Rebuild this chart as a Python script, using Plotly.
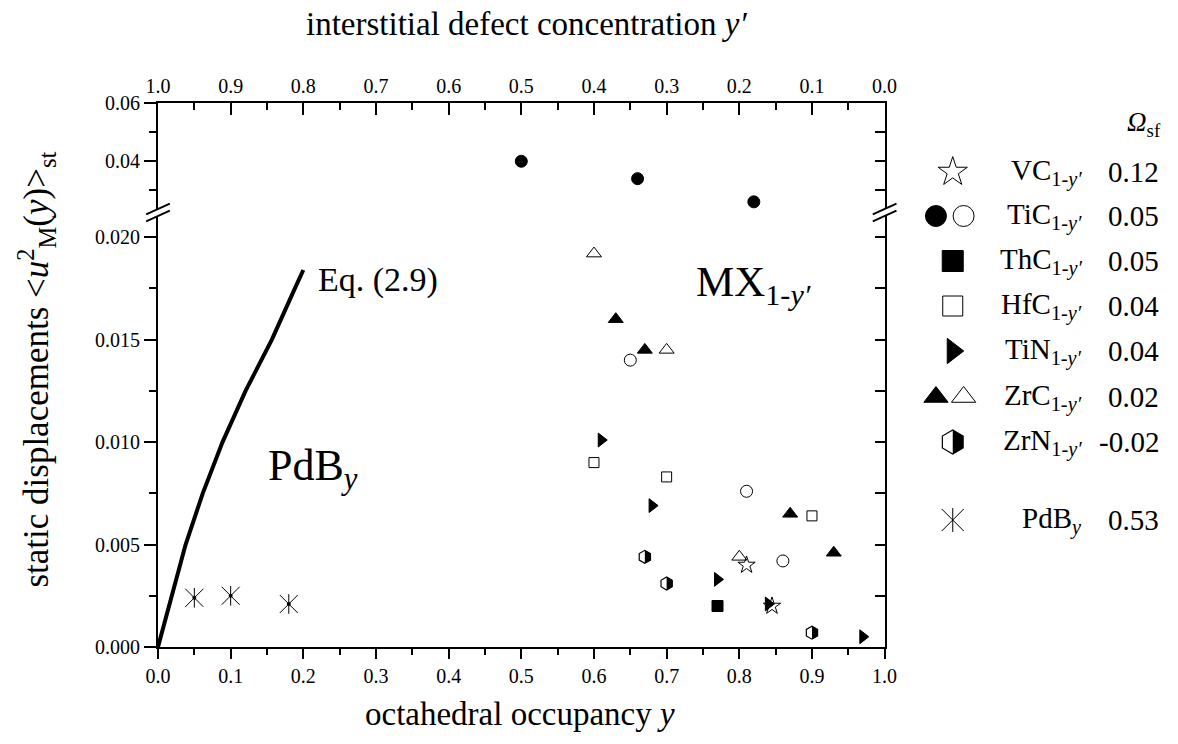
import plotly.graph_objects as go

# ---------------- data ----------------
vc_x = [0.81, 0.845]
vc_y = [0.0040, 0.0020]
tic_fill_x = [0.50, 0.66, 0.82]          # upper (broken) segment
tic_fill_y = [0.040, 0.034, 0.026]
tic_open_x = [0.65, 0.81, 0.86]
tic_open_y = [0.0140, 0.0076, 0.0042]
thc_x = [0.77]
thc_y = [0.0020]
hfc_x = [0.60, 0.70, 0.90]
hfc_y = [0.0090, 0.0083, 0.0064]
tin_x = [0.61, 0.68, 0.77, 0.84, 0.97]
tin_y = [0.0101, 0.0069, 0.0033, 0.0021, 0.0005]
zrc_fill_x = [0.63, 0.67, 0.87, 0.93]
zrc_fill_y = [0.0160, 0.0145, 0.0065, 0.0046]
zrc_open_x = [0.60, 0.70, 0.80]
zrc_open_y = [0.0192, 0.0145, 0.0044]
zrn_x = [0.67, 0.70, 0.90]
zrn_y = [0.0044, 0.0031, 0.0007]
pdb_x = [0.05, 0.10, 0.18]
pdb_y = [0.0024, 0.0025, 0.0021]
eq_x = [0.0, 0.0186, 0.038, 0.0616, 0.0888, 0.1205, 0.1567, 0.1884, 0.20]
eq_y = [0.0, 0.0025, 0.005, 0.0075, 0.010, 0.0125, 0.015, 0.0175, 0.0184]

legend_names = ["VC", "TiC", "ThC", "HfC", "TiN", "ZrC", "ZrN"]
legend_omega = ["0.12", "0.05", "0.05", "0.04", "0.04", "0.02", "-0.02"]
pdb_omega = "0.53"

# ---------------- layout geometry ----------------
W, H = 1178, 744
ML, MR, MT, MB = 158, 0, 103, 97
PW = W - ML - MR
PH = H - MT - MB
XD = 736 / PW                      # main plot x-domain end
D1 = (647 - 216) / PH              # lower y-domain top
D2 = (647 - 209) / PH              # upper y-domain bottom
LOW_RANGE = [0, (647 - 216) / 20490]
UP_RANGE = [0.04 - (209 - 161) / 2915, 0.0601]

FONT = "Liberation Serif"
BLACK = "black"


def px2paper(px, py):
    return (px - ML) / PW, (647 - py) / PH


fig = go.Figure()


def half_hex_path(size):
    r = size / 2
    rt = r * 0.866
    return f"M0,{r:.2f} L{rt:.2f},{r/2:.2f} L{rt:.2f},{-r/2:.2f} L0,{-r:.2f} Z"


def add_sc(x, y, symbol, size, xa="x", ya="y", lw=1.0):
    fig.add_trace(go.Scatter(
        x=x, y=y, mode="markers", xaxis=xa, yaxis=ya, showlegend=False,
        hoverinfo="skip",
        marker=dict(symbol=symbol, size=size, color=BLACK,
                    line=dict(color=BLACK, width=lw))))


# Eq. (2.9) curve
fig.add_trace(go.Scatter(x=eq_x, y=eq_y, mode="lines", xaxis="x", yaxis="y",
                         line=dict(color=BLACK, width=4),
                         showlegend=False, hoverinfo="skip"))

# data markers
add_sc(vc_x, vc_y, "star-open", 13)
add_sc(tic_fill_x, tic_fill_y, "circle", 12, ya="y2")
add_sc(tic_open_x, tic_open_y, "circle-open", 12)
add_sc(thc_x, thc_y, "square", 11)
add_sc(hfc_x, hfc_y, "square-open", 10)
add_sc(tin_x, tin_y, "triangle-right", 12)
add_sc(zrc_fill_x, zrc_fill_y, "triangle-up", 13)
add_sc(zrc_open_x, zrc_open_y, "triangle-up-open", 13)
add_sc(zrn_x, zrn_y, "hexagon-open", 13, lw=1.2)
add_sc(pdb_x, pdb_y, "x-thin-open", 18)
add_sc(pdb_x, pdb_y, "line-ns-open", 14)
add_sc(pdb_x, pdb_y, "circle", 3)

shapes = []
for xv, yv in zip(zrn_x, zrn_y):
    shapes.append(dict(type="path", xref="x", yref="y", xsizemode="pixel",
                       ysizemode="pixel", xanchor=xv, yanchor=yv,
                       path=half_hex_path(13), fillcolor=BLACK,
                       line=dict(width=0)))

# dummy traces so that the extra axes are drawn
fig.add_trace(go.Scatter(x=[None], y=[None], xaxis="x", yaxis="y3", showlegend=False))
fig.add_trace(go.Scatter(x=[None], y=[None], xaxis="x", yaxis="y4", showlegend=False))
fig.add_trace(go.Scatter(x=[None], y=[None], xaxis="x2", yaxis="y2", showlegend=False))

# ---------------- custom legend (right side) ----------------
row_y = [172, 216, 261, 306, 351, 397, 442]
pdb_row_y = 520
sym_x = 963
pair_x = (946, 974)
add_sc([sym_x], [row_y[0]], "star-open", 22, xa="x3", ya="y5")
add_sc([pair_x[0]], [row_y[1]], "circle", 21, xa="x3", ya="y5")
add_sc([pair_x[1]], [row_y[1]], "circle-open", 21, xa="x3", ya="y5")
add_sc([sym_x], [row_y[2]], "square", 21, xa="x3", ya="y5")
add_sc([sym_x], [row_y[3]], "square-open", 20, xa="x3", ya="y5")
add_sc([sym_x], [row_y[4]], "triangle-right", 22, xa="x3", ya="y5")
add_sc([pair_x[0]], [row_y[5]], "triangle-up", 21, xa="x3", ya="y5")
add_sc([pair_x[1]], [row_y[5]], "triangle-up-open", 21, xa="x3", ya="y5")
add_sc([sym_x], [row_y[6]], "hexagon-open", 24, xa="x3", ya="y5", lw=1.2)
shapes.append(dict(type="path", xref="x3", yref="y5", xsizemode="pixel",
                   ysizemode="pixel", xanchor=sym_x, yanchor=row_y[6],
                   path=half_hex_path(24), fillcolor=BLACK, line=dict(width=0)))
add_sc([sym_x], [pdb_row_y], "x-thin-open", 22, xa="x3", ya="y5")
add_sc([sym_x], [pdb_row_y], "line-ns-open", 17, xa="x3", ya="y5")

annotations = []
LF = 29
for name, om, yy in zip(legend_names, legend_omega, row_y):
    annotations.append(dict(x=1096, y=yy, xref="x3", yref="y5",
                            text=f"{name}<sub>1-<i>y′</i></sub>",
                            xanchor="right", yanchor="middle", showarrow=False,
                            font=dict(family=FONT, size=LF, color=BLACK)))
    annotations.append(dict(x=1174, y=yy, xref="x3", yref="y5", text=om,
                            xanchor="right", yanchor="middle", showarrow=False,
                            font=dict(family=FONT, size=LF, color=BLACK)))
annotations.append(dict(x=1096, y=pdb_row_y, xref="x3", yref="y5",
                        text="PdB<sub><i>y</i></sub>", xanchor="right",
                        yanchor="middle", showarrow=False,
                        font=dict(family=FONT, size=LF, color=BLACK)))
annotations.append(dict(x=1174, y=pdb_row_y, xref="x3", yref="y5",
                        text=pdb_omega, xanchor="right", yanchor="middle",
                        showarrow=False, font=dict(family=FONT, size=LF, color=BLACK)))
annotations.append(dict(x=1176, y=124, xref="x3", yref="y5",
                        text="<i>Ω</i><sub>sf</sub>", xanchor="right",
                        yanchor="middle", showarrow=False,
                        font=dict(family=FONT, size=27, color=BLACK)))

# in-plot labels
annotations.append(dict(x=0.217, y=0.0179, xref="x", yref="y", text="Eq. (2.9)",
                        xanchor="left", yanchor="middle", showarrow=False,
                        font=dict(family=FONT, size=34, color=BLACK)))
annotations.append(dict(x=0.148, y=0.0087, xref="x", yref="y",
                        text="PdB<sub><i>y</i></sub>",
                        xanchor="left", yanchor="middle", showarrow=False,
                        font=dict(family=FONT, size=44, color=BLACK)))
annotations.append(dict(x=0.737, y=0.01765, xref="x", yref="y",
                        text="MX<sub>1-<i>y′</i></sub>",
                        xanchor="left", yanchor="middle", showarrow=False,
                        font=dict(family=FONT, size=43, color=BLACK)))

# axis titles
tx, ty = px2paper(531, 24)
annotations.append(dict(x=tx, y=ty, xref="paper", yref="paper",
                        text="interstitial defect concentration <i>y′</i>",
                        xanchor="center", yanchor="middle", showarrow=False,
                        font=dict(family=FONT, size=33, color=BLACK)))
bx, by = px2paper(525, 714)
annotations.append(dict(x=bx, y=by, xref="paper", yref="paper",
                        text="octahedral occupancy <i>y</i>",
                        xanchor="center", yanchor="middle", showarrow=False,
                        font=dict(family=FONT, size=33, color=BLACK)))
lx, ly = px2paper(34, 370)
annotations.append(dict(x=lx, y=ly, xref="paper", yref="paper", textangle=-90,
                        text="static displacements &lt;<i>u</i><sup>2</sup><sub>M</sub>(<i>y</i>)&gt;<sub>st</sub>",
                        xanchor="center", yanchor="middle", showarrow=False,
                        font=dict(family=FONT, size=35, color=BLACK)))

# axis break marks
for ax_px in (158, 894):
    for cy in (209, 216):
        x0, y0 = px2paper(ax_px - 12, cy + 5.3)
        x1, y1 = px2paper(ax_px + 12, cy - 5.3)
        shapes.append(dict(type="line", xref="paper", yref="paper",
                           x0=x0, y0=y0, x1=x1, y1=y1,
                           line=dict(color=BLACK, width=2)))

tickfont = dict(family=FONT, size=20, color=BLACK)
common = dict(showgrid=False, zeroline=False, showline=True, linecolor=BLACK,
              linewidth=2, tickcolor=BLACK, tickwidth=2, tickfont=tickfont)

fig.update_layout(
    width=W, height=H, autosize=False,
    margin=dict(l=ML, r=MR, t=MT, b=MB),
    font=dict(family=FONT, size=20, color=BLACK),
    paper_bgcolor="white", plot_bgcolor="white", showlegend=False,
    xaxis=dict(domain=[0, XD], range=[0, 1], anchor="y", ticks="outside",
               ticklen=10, tick0=0, dtick=0.1, tickformat=".1f",
               minor=dict(dtick=0.05, ticklen=6, tickwidth=2, ticks="outside",
                          tickcolor=BLACK), **common),
    xaxis2=dict(overlaying="x", side="top", anchor="y2", range=[1, 0],
                ticks="inside", ticklen=12, tick0=0, dtick=0.1, tickformat=".1f",
                minor=dict(dtick=0.05, ticklen=7, tickwidth=2, ticks="inside",
                           tickcolor=BLACK), **common),
    yaxis=dict(domain=[0, D1], range=LOW_RANGE, anchor="x", ticks="outside",
               ticklen=12, tick0=0, dtick=0.005, tickformat=".3f",
               minor=dict(dtick=0.0025, ticklen=7, tickwidth=2, ticks="outside",
                          tickcolor=BLACK), **common),
    yaxis2=dict(domain=[D2, 1], range=UP_RANGE, anchor="x", ticks="outside",
                ticklen=12, tick0=0, dtick=0.02, tickformat=".2f",
                minor=dict(dtick=0.01, ticklen=7, tickwidth=2, ticks="outside",
                           tickcolor=BLACK), **common),
    yaxis3=dict(overlaying="y", side="right", anchor="x", range=LOW_RANGE,
                ticks="inside", ticklen=10, tick0=0, dtick=0.0025,
                showticklabels=False, **common),
    yaxis4=dict(overlaying="y2", side="right", anchor="x", range=UP_RANGE,
                ticks="inside", ticklen=10, tick0=0, dtick=0.01,
                showticklabels=False, **common),
    xaxis3=dict(domain=[XD, 1], range=[894, 1178], anchor="y5", visible=False),
    yaxis5=dict(domain=[0, 1], range=[647, 103], anchor="x3", visible=False),
    shapes=shapes, annotations=annotations,
)

fig.write_html("out.html", config={"responsive": False, "displayModeBar": False})
